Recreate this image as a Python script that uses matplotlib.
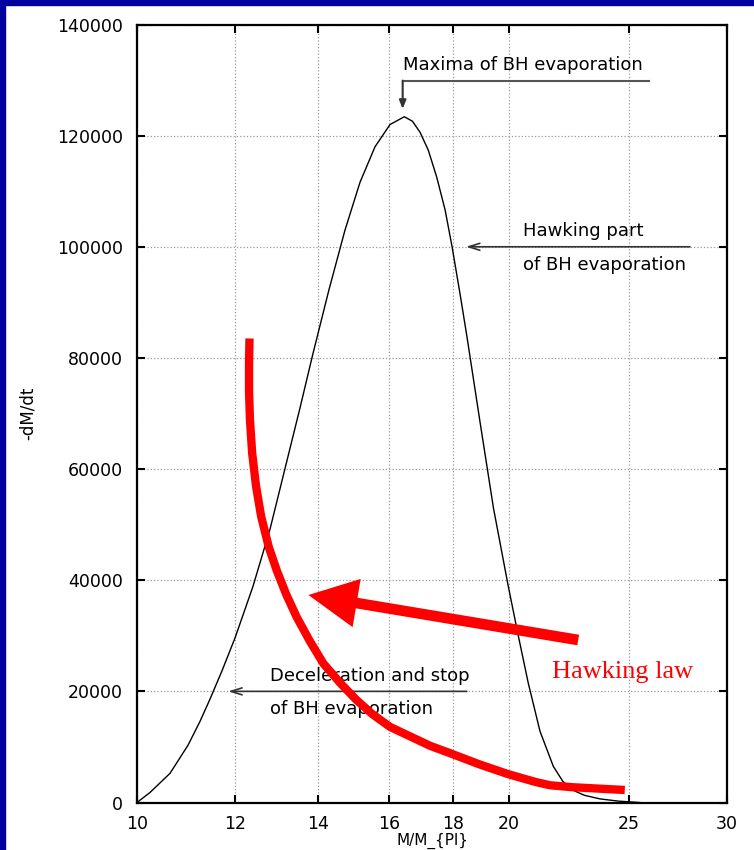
import matplotlib
matplotlib.use('Agg')
import matplotlib.pyplot as plt
from matplotlib.patches import Rectangle


# data
mass = [10.0, 10.245, 10.634, 10.996, 11.245, 11.456, 11.715, 12.002, 12.411,
        12.811, 13.197, 13.546, 13.878, 14.298, 14.73, 15.147, 15.577, 16.018,
        16.45, 16.7, 16.94, 17.2, 17.47, 17.75, 17.98, 18.25, 18.48, 18.94,
        19.42, 19.96, 20.34, 20.72, 21.18, 21.71, 22.1, 22.53, 23.0, 23.68,
        24.5, 25.5]
rate = [0, 1800, 5250, 10300, 14600, 18600, 23700, 29600, 38900,
        49200, 60800, 71000, 80800, 92300, 103000, 111600, 118000, 122000,
        123400, 122600, 120600, 117400, 112600, 106600, 100000, 91500, 84000, 68500,
        53000, 39000, 30000, 21500, 12800, 6500, 3800, 2200, 1300, 650,
        250, 0]

hawk_mass = [12.33, 12.32, 12.32, 12.34, 12.39, 12.48, 12.6, 12.78, 12.97, 13.2,
             13.46, 13.8, 14.15, 14.6, 15.04, 15.5, 16.02, 17.26, 17.9, 18.9,
             19.96, 21.0, 21.58, 22.5, 24.8]
hawk_rate = [83500, 79000, 74000, 69000, 63000, 57000, 51500, 46000, 41800, 37500,
             33400, 29000, 25000, 21500, 18500, 15900, 13600, 10200, 8900, 6900,
             5100, 3700, 3100, 2750, 2250]

xticks = [10, 12, 14, 16, 18, 20, 25, 30]
yticks = [0, 20000, 40000, 60000, 80000, 100000, 120000, 140000]

fig = plt.figure(figsize=(7.54, 8.5), dpi=100)
fig.patches.append(Rectangle((0, 0), 5 / 754, 1, transform=fig.transFigure,
                             color='#0000a0', zorder=0))
fig.patches.append(Rectangle((0, 1 - 5 / 850), 1, 5 / 850, transform=fig.transFigure,
                             color='#0000a0', zorder=0))

ax = fig.add_axes([137 / 754, 1 - 802.5 / 850, 590 / 754, 778 / 850])
ax.set_xscale('log')
ax.set_xlim(10, 30)
ax.set_ylim(0, 140000)
ax.set_xticks(xticks)
ax.set_xticklabels([str(t) for t in xticks])
ax.xaxis.set_minor_locator(matplotlib.ticker.NullLocator())
ax.set_yticks(yticks)
ax.set_yticklabels([str(t) for t in yticks])
ax.tick_params(direction='in', length=6, width=1.5, labelsize=12.5,
               top=True, right=True, pad=9)
ax.tick_params(axis='y', pad=10)
for s in ax.spines.values():
    s.set_linewidth(1.6)
ax.grid(True, linestyle=':', color='#999999', linewidth=0.9)

ax.plot(mass, rate, color='black', linewidth=1.0, zorder=3)
ax.plot(hawk_mass, hawk_rate, color='#ff0000', linewidth=6, zorder=10,
        solid_capstyle='butt', solid_joinstyle='round')

# big red arrow
ax.annotate('', xy=(13.76, 37340), xytext=(22.74, 29240), zorder=11,
            arrowprops=dict(arrowstyle='simple,head_length=1.6,head_width=1.6,tail_width=0.35',
                            color='#ff0000', lw=0, shrinkA=0, shrinkB=0,
                            mutation_scale=22))
ax.text(21.65, 23540, 'Hawking law', color='#ff0000', fontsize=19,
        family='Liberation Serif', va='center', ha='left', zorder=11)

tfont = dict(fontsize=13, va='center', ha='left', zorder=5)
ax.text(16.40, 132700, 'Maxima of BH evaporation', **tfont)
ax.plot([25.96, 16.40], [129900, 129900], color='#555555', linewidth=1.5, zorder=5)
ax.annotate('', xy=(16.40, 124800), xytext=(16.40, 129900), zorder=5,
            arrowprops=dict(arrowstyle='-|>,head_length=0.5,head_width=0.2',
                            color='#333333', lw=1.5, shrinkA=0, shrinkB=0))

ax.text(20.51, 102840, 'Hawking part', **tfont)
ax.text(20.51, 96720, 'of BH evaporation', **tfont)
ax.annotate('', xy=(18.45, 100000), xytext=(28.0, 100000), zorder=5,
            arrowprops=dict(arrowstyle='->,head_length=0.8,head_width=0.25',
                            color='#333333', lw=1.2, shrinkA=0, shrinkB=0))

ax.text(12.81, 22760, 'Deceleration and stop', **tfont)
ax.text(12.81, 16780, 'of BH evaporation', **tfont)
ax.annotate('', xy=(11.85, 20000), xytext=(18.48, 20000), zorder=5,
            arrowprops=dict(arrowstyle='->,head_length=0.8,head_width=0.25',
                            color='#333333', lw=1.2, shrinkA=0, shrinkB=0))

fig.text(28 / 754, 1 - 413 / 850, '-dM/dt', rotation=90, fontsize=12,
         ha='center', va='center')
fig.text(432 / 754, 1 / 850, 'M/M_{Pl}', fontsize=11, ha='center', va='bottom')

fig.savefig('out.png', dpi=100)
